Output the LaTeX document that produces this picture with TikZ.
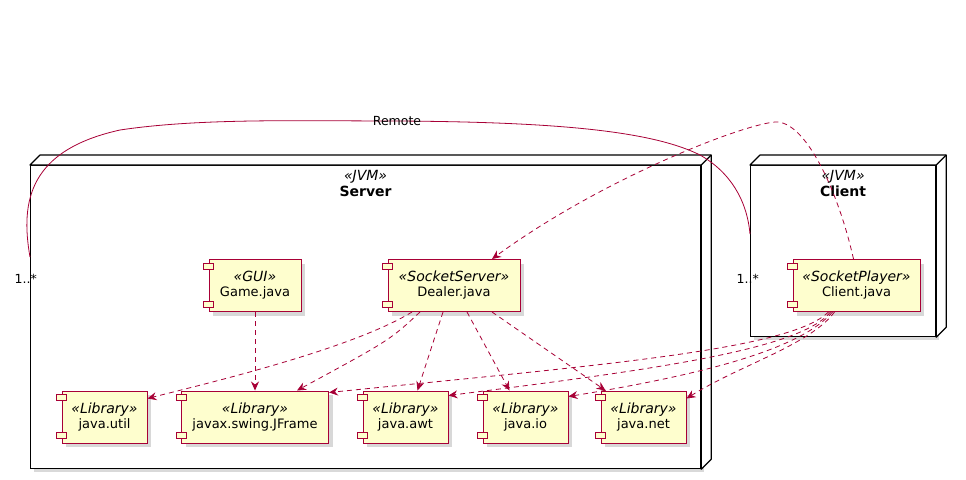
\documentclass[tikz,border=0pt]{standalone}
\usepackage{fontspec}
\setmainfont{DejaVu Sans}[ItalicFont={DejaVu Sans Oblique},BoldFont={DejaVu Sans Bold}]
\usetikzlibrary{arrows.meta,shadows}
\definecolor{umlred}{HTML}{A80036}
\definecolor{umlyellow}{HTML}{FEFECE}
\tikzset{
  jvmbox/.style={draw=black, line width=1.2pt, fill=white, anchor=north west, inner sep=0pt,
    drop shadow={opacity=0.3, shadow xshift=3pt, shadow yshift=-3pt}},
  jvmface/.style={draw=black, line width=1.2pt, fill=white, line join=round},
  jvmtitle/.style={anchor=north, align=center, font=\fontsize{14}{16}\selectfont, inner sep=0pt},
  comp/.style={draw=umlred, line width=1pt, fill=umlyellow, minimum height=52pt, align=center,
    font=\fontsize{13}{15}\selectfont, inner sep=0pt,
    drop shadow={opacity=0.3, shadow xshift=4pt, shadow yshift=-4pt}},
  comptab/.style={draw=umlred, line width=1pt, fill=umlyellow},
  dep/.style={draw=umlred, line width=0.8pt, dash pattern=on 5pt off 4pt,
    -{Stealth[length=9pt,width=8pt,inset=3pt]}},
  remote/.style={draw=umlred, line width=0.8pt},
  lbl/.style={font=\fontsize{12.5}{14}\selectfont, inner sep=1pt}
}
\newcommand{\stereo}[1]{{\fontsize{14}{15}\selectfont\itshape «#1»}}

\begin{document}
\begin{tikzpicture}[x=1pt, y=-1pt]
\useasboundingbox (0,0) rectangle (966,479);

%% server jvm
\node[jvmbox, minimum width=670pt, minimum height=303pt] (Server) at (30,165) {};
\draw[jvmface] (Server.north west) -- ++(10pt,10pt) -- ([shift={(10pt,10pt)}]Server.north east) -- ([shift={(10pt,10pt)}]Server.south east) -- (Server.south east) -- (Server.north east) -- cycle;
\draw[jvmface] (Server.north east) -- ++(10pt,10pt);
\node[jvmtitle] (Server-title) at ([yshift=-5pt]Server.north) {\textit{«JVM»}\\\textbf{Server}};

%% client jvm
\node[jvmbox, minimum width=185pt, minimum height=171pt] (ClientVM) at (750,165) {};
\draw[jvmface] (ClientVM.north west) -- ++(10pt,10pt) -- ([shift={(10pt,10pt)}]ClientVM.north east) -- ([shift={(10pt,10pt)}]ClientVM.south east) -- (ClientVM.south east) -- (ClientVM.north east) -- cycle;
\draw[jvmface] (ClientVM.north east) -- ++(10pt,10pt);
\node[jvmtitle] (ClientVM-title) at ([yshift=-5pt]ClientVM.north) {\textit{«JVM»}\\\textbf{Client}};

%% components
\node[comp, minimum width=92pt] (Game) at (255,285.5) {\stereo{GUI}\\Game.java};
\node[comp, minimum width=132pt] (Dealer) at (454,285.5) {\stereo{SocketServer}\\Dealer.java};
\node[comp, minimum width=127pt] (Player) at (856.5,285.5) {\stereo{SocketPlayer}\\Client.java};

%% libraries
\node[comp, minimum width=85pt] (Lib-util) at (104.5,417) {\stereo{Library}\\java.util};
\node[comp, minimum width=147pt] (Lib-swing) at (255,417) {\stereo{Library}\\javax.swing.JFrame};
\node[comp, minimum width=85pt] (Lib-awt) at (405.5,417) {\stereo{Library}\\java.awt};
\node[comp, minimum width=85pt] (Lib-io) at (525.5,417) {\stereo{Library}\\java.io};
\node[comp, minimum width=85pt] (Lib-net) at (643.5,417) {\stereo{Library}\\java.net};

\foreach \n in {Game,Dealer,Player,Lib-util,Lib-swing,Lib-awt,Lib-io,Lib-net} {
  \draw[comptab] ([xshift=-5pt,yshift=-4pt]\n.north west) rectangle ++(10pt,-6pt);
  \draw[comptab] ([xshift=-5pt,yshift=5pt]\n.south west) rectangle ++(10pt,6pt);
}

%% dealer -> libraries
\draw[dep] (Game) -- (Lib-swing);
\draw[dep] ([xshift=-42pt]Dealer.south) .. controls (350,350) and (200,385) .. ([yshift=-8pt]Lib-util.north east);
\draw[dep] ([xshift=-34pt]Dealer.south) .. controls (390,340) .. ([xshift=42pt]Lib-swing.north);
\draw[dep] ([xshift=-11pt]Dealer.south) -- ([xshift=12pt]Lib-awt.north);
\draw[dep] ([xshift=13pt]Dealer.south) -- ([xshift=-16pt]Lib-io.north);
\draw[dep] ([xshift=38pt]Dealer.south) -- ([xshift=-38pt]Lib-net.north);

%% client -> libraries
\draw[dep] ([xshift=-28pt]Player.south) .. controls (790,350) and (600,365) .. ([yshift=-2pt]Lib-swing.north east);
\draw[dep] ([xshift=-26pt]Player.south) .. controls (800,350) and (650,370) .. ([yshift=-5pt]Lib-awt.north east);
\draw[dep] ([xshift=-24pt]Player.south) .. controls (800,350) and (700,375) .. ([yshift=-6pt]Lib-io.north east);
\draw[dep] ([xshift=-22pt]Player.south) .. controls (810,345) and (740,365) .. ([yshift=-8pt]Lib-net.north east);

%% client -> dealer
\coordinate (Bend1) at (775,122);
\draw[dep] ([xshift=-3pt]Player.north) .. controls (838,190) and (805,120) .. (Bend1) .. controls (740,125) and (600,180) .. ([xshift=38pt]Dealer.north);

%% remote link
\draw[remote] ([yshift=60pt]Server.west) .. controls (20,200) and (30,150) .. (120,130) .. controls (200,118) and (300,121) .. (397,121) node[lbl] (Remote-label) {Remote} .. controls (550,122) and (650,130) .. (700,155) .. controls (730,172) and (747,200) .. ([yshift=17pt]ClientVM.west);
\node[lbl, anchor=east] (Mult-server) at ([xshift=8pt,yshift=38pt]Server.west) {1..*};
\node[lbl, anchor=east] (Mult-client) at ([xshift=10pt,yshift=-28pt]ClientVM.west) {1..*};

\end{tikzpicture}
\end{document}
